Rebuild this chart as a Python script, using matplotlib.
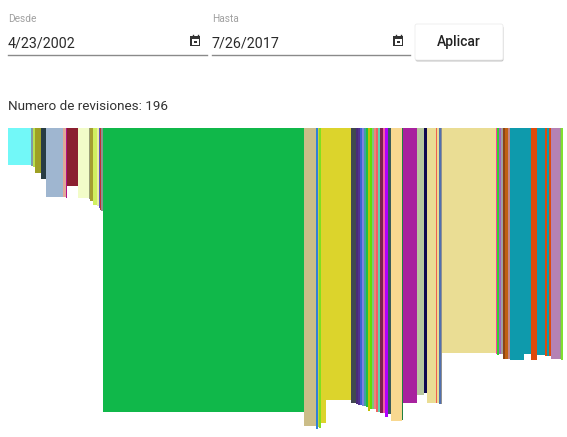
import matplotlib
matplotlib.use("Agg")
import matplotlib.pyplot as plt
from matplotlib.patches import Rectangle, FancyBboxPatch

plt.rcParams['font.family'] = ['Roboto', 'DejaVu Sans']

# Datos: ancho, profundidad y color de cada revision
anchos = [23, 2, 1.7, 6.3, 5, 17.3, 2.4, 1.3, 10.7, 11, 1.3, 3, 4, 1.7, 1, 1.3, 2,
          201, 12, 2, 1, 2, 5, 25, 5,
          2, 2, 2, 2, 2, 2, 2, 2, 2, 2, 2, 2,
          3, 2.3, 2.7, 3, 11, 1, 14, 7, 3, 9, 1, 2, 2, 1,
          54, 1, 2, 2, 2, 2.3, 2.7, 2, 14, 7, 6, 8.3, 1.4, 2.6, 1.4, 9.3, 1.3, 1.7]
profundidad = [37, 38, 39, 44.7, 51, 69, 69, 70, 57.7, 70, 71, 73, 77, 78, 80, 82, 83,
               284, 298, 300.7, 299, 299.7, 294.7, 272, 275,
               276, 277, 277, 278, 278, 279, 283, 281, 281, 281, 284, 284,
               285, 285, 288.7, 286, 292.7, 292, 275, 267, 265, 275, 275, 275, 276, 276,
               225, 226, 227, 226, 226, 231, 231, 231, 232, 226, 232, 227, 228, 228, 228,
               231, 231, 232]
colores = ['#72f8f8', '#7f9aa8', '#b8e050', '#9ea024', '#283c44', '#9fb6d0', '#e0a898',
           '#b0108a', '#8b1f30', '#f2fcc8', '#9aa078', '#a4a030', '#d0f060', '#e8f0a0',
           '#6050c0', '#c03030', '#909090',
           '#10b84a', '#cbbd88', '#2f80d8', '#c8d040', '#80e020', '#dcd42c', '#dcd42c',
           '#404850',
           '#4a2a7a', '#503090', '#4060d0', '#8080e0', '#40a0a0', '#20c040', '#c0c000',
           '#60e000', '#80c080', '#f08080', '#f06060', '#60d0b0',
           '#802050', '#f060a0', '#b000ff', '#3a5a5a', '#f8d890', '#208040', '#a8229e',
           '#b8c8a0', '#100850', '#eadd94', '#f06050', '#eadd94', '#5070b0', '#909090',
           '#eadd94', '#ff40a0', '#30d030', '#a060c0', '#a0a0a0', '#8b4513', '#c06010',
           '#c08888', '#0e9aac', '#0e9aac', '#e04a0a', '#0e9aac', '#e04a0a', '#0e9aac',
           '#e04a0a', '#b482b4', '#90a080', '#80e030']

fecha_desde = "4/23/2002"
fecha_hasta = "7/26/2017"
num_revisiones = 196

W, H = 567, 437
fig = plt.figure(figsize=(W / 100, H / 100), dpi=100)

# Barras colgando desde arriba
ax = fig.add_axes([8 / W, 0, 555 / W, (H - 128) / H])
izq = [sum(anchos[:i]) for i in range(len(anchos))]
ax.bar(izq, [-p for p in profundidad], width=anchos, align='edge',
       color=colores, linewidth=0)
ax.set_xlim(0, sum(anchos))
ax.set_ylim(-(H - 128), 0)
ax.axis('off')

# Controles de la parte superior (coordenadas en pixeles)
ui = fig.add_axes([0, 0, 1, 1], zorder=-1)
ui.set_xlim(0, W)
ui.set_ylim(H, 0)
ui.axis('off')


def campo_fecha(x0, x1, etiqueta, valor):
    ui.text(x0, 22, etiqueta, fontsize=7.3, color='#a0a0a0', va='baseline')
    ui.text(x0, 47, valor, fontsize=10.3, color='#2a2a2a', va='baseline')
    ui.plot([x0, x1], [55, 55], color='#8a8a8a', lw=1)
    # icono de calendario
    cx = x1 - 17
    ui.add_patch(Rectangle((cx, 36), 10, 10, facecolor='#333333', edgecolor='none'))
    ui.add_patch(Rectangle((cx + 1.5, 39), 7, 5.5, facecolor='white', edgecolor='none'))
    ui.add_patch(Rectangle((cx + 3.5, 40.5), 3, 2.5, facecolor='#333333', edgecolor='none'))
    ui.plot([cx + 2.5, cx + 2.5], [34.5, 36.5], color='#333333', lw=1)
    ui.plot([cx + 7.5, cx + 7.5], [34.5, 36.5], color='#333333', lw=1)


campo_fecha(8, 207, "Desde", fecha_desde)
campo_fecha(212, 410, "Hasta", fecha_hasta)

# Boton con sombra
ui.add_patch(FancyBboxPatch((415.5, 26), 88, 35.5, boxstyle="round,pad=0,rounding_size=2",
                            facecolor='#c4c4c4', edgecolor='none'))
ui.add_patch(FancyBboxPatch((415, 24), 88, 36, boxstyle="round,pad=0,rounding_size=2",
                            facecolor='white', edgecolor='#ececec', lw=0.6))
ui.text(459, 42, "Aplicar", fontsize=10, fontweight='medium', color='#222222',
        ha='center', va='center')

ui.text(8, 109.5, f"Numero de revisiones: {num_revisiones}", fontsize=9.7,
        color='#333333', va='baseline')

fig.savefig("out.png", dpi=100)
